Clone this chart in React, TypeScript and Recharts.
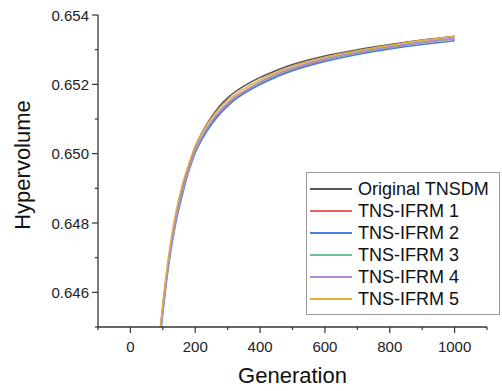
import { LineChart, Line, XAxis, YAxis, Legend } from "recharts";

const generations = [80, 90, 100, 110, 120, 140, 160, 180, 200, 225, 250, 275, 300, 325, 350, 400, 450, 500, 600, 700, 800, 900, 1000];

const original = [0.6437, 0.6447, 0.6456, 0.6464, 0.6471, 0.6482, 0.649, 0.64965, 0.6502, 0.65068, 0.65106, 0.65137, 0.65161, 0.6518, 0.65195, 0.6522, 0.6524, 0.65257, 0.65282, 0.653, 0.65315, 0.65328, 0.65339];
const ifrm1 = [0.6437, 0.6446, 0.6455, 0.6463, 0.647, 0.6481, 0.6489, 0.6495, 0.65005, 0.6505, 0.65088, 0.65118, 0.65141, 0.6516, 0.65175, 0.65202, 0.65224, 0.65242, 0.6527, 0.6529, 0.65306, 0.6532, 0.65331];
const ifrm2 = [0.6436, 0.6445, 0.6454, 0.6462, 0.6469, 0.648, 0.6488, 0.6495, 0.65003, 0.65048, 0.65084, 0.65113, 0.65137, 0.65157, 0.65173, 0.65199, 0.65221, 0.65239, 0.65266, 0.65286, 0.65302, 0.65315, 0.65326];
const ifrm3 = [0.6437, 0.6446, 0.6455, 0.6463, 0.647, 0.6481, 0.6489, 0.64955, 0.6501, 0.65056, 0.65093, 0.65122, 0.65145, 0.65164, 0.65179, 0.65205, 0.65227, 0.65245, 0.65272, 0.65292, 0.65308, 0.65321, 0.65332];
const ifrm4 = [0.6437, 0.6446, 0.6455, 0.6463, 0.647, 0.6481, 0.6489, 0.64955, 0.6501, 0.65055, 0.65092, 0.65122, 0.65146, 0.65165, 0.6518, 0.65207, 0.65229, 0.65247, 0.65274, 0.65294, 0.6531, 0.65323, 0.65334];
const ifrm5 = [0.6439, 0.6448, 0.6457, 0.6465, 0.6472, 0.6483, 0.6491, 0.6497, 0.65022, 0.65066, 0.65102, 0.65131, 0.65154, 0.65172, 0.65187, 0.65213, 0.65234, 0.65252, 0.65278, 0.65297, 0.65313, 0.65327, 0.65338];

const xTicks = [-100, 0, 100, 200, 300, 400, 500, 600, 700, 800, 900, 1000, 1100];
const yTicks = [0.645, 0.646, 0.647, 0.648, 0.649, 0.65, 0.651, 0.652, 0.653, 0.654];

const series = [
  { key: "original", name: "Original TNSDM", color: "#555555" },
  { key: "ifrm1", name: "TNS-IFRM 1", color: "#ee5f5f" },
  { key: "ifrm2", name: "TNS-IFRM 2", color: "#4a7fdc" },
  { key: "ifrm3", name: "TNS-IFRM 3", color: "#6cc39a" },
  { key: "ifrm4", name: "TNS-IFRM 4", color: "#b08ad8" },
  { key: "ifrm5", name: "TNS-IFRM 5", color: "#e3ad3c" },
];

const data = generations.map((gen, i) => ({
  gen,
  original: original[i],
  ifrm1: ifrm1[i],
  ifrm2: ifrm2[i],
  ifrm3: ifrm3[i],
  ifrm4: ifrm4[i],
  ifrm5: ifrm5[i],
}));

const FONT = "'Liberation Sans', Arial, sans-serif";
const AXIS = "#333333";

const XTick = ({ x, y, payload }: any) => {
  const major = payload.value % 200 === 0;
  return (
    <g>
      <line x1={x} x2={x} y1={y} y2={y + (major ? 6 : 3)} stroke={AXIS} strokeWidth={1.2} />
      {major && (
        <text x={x} y={y + 25} textAnchor="middle" fontSize={15} fontFamily={FONT} fill="#222">
          {payload.value}
        </text>
      )}
    </g>
  );
};

const YTick = ({ x, y, payload }: any) => {
  const major = Math.round(payload.value * 1000) % 2 === 0;
  return (
    <g>
      <line x1={x} x2={x - (major ? 6 : 3)} y1={y} y2={y} stroke={AXIS} strokeWidth={1.2} />
      {major && (
        <text x={x - 9} y={y + 5.5} textAnchor="end" fontSize={15} fontFamily={FONT} fill="#222">
          {payload.value.toFixed(3)}
        </text>
      )}
    </g>
  );
};

const YLabel = ({ viewBox }: any) => {
  const cx = viewBox.x + 22;
  const cy = viewBox.y + viewBox.height / 2 - 6;
  return (
    <text
      x={cx}
      y={cy}
      transform={`rotate(-90, ${cx}, ${cy})`}
      textAnchor="middle"
      dominantBaseline="central"
      fontSize={22}
      fontFamily={FONT}
      fill="#111"
    >
      Hypervolume
    </text>
  );
};

const XLabel = ({ viewBox }: any) => (
  <text
    x={viewBox.x + viewBox.width / 2}
    y={viewBox.y + 56}
    textAnchor="middle"
    fontSize={22}
    fontFamily={FONT}
    fill="#111"
  >
    Generation
  </text>
);

const LegendBox = () => (
  <div
    style={{
      border: "1px solid #9a9a9a",
      background: "#fff",
      padding: "5px 0 4px 3px",
      fontFamily: FONT,
      fontSize: 18,
      lineHeight: "22px",
      color: "#111",
      boxSizing: "border-box",
      width: 194,
    }}
  >
    {series.map((s) => (
      <div key={s.key} style={{ display: "flex", alignItems: "center", whiteSpace: "nowrap" }}>
        <svg width={48} height={22}>
          <line x1={0} x2={42} y1={11} y2={11} stroke={s.color} strokeWidth={2} />
        </svg>
        <span>{s.name}</span>
      </div>
    ))}
  </div>
);

export default function App() {
  return (
    <div style={{ position: "absolute", left: 0, top: 0, background: "#fff" }}>
      <LineChart width={502} height={391} data={data} margin={{ top: 15, right: 15, left: 0, bottom: 0 }}>
        <XAxis
          dataKey="gen"
          type="number"
          domain={[-100, 1100]}
          ticks={xTicks}
          allowDataOverflow
          height={64}
          tickSize={0}
          tickMargin={0}
          tickLine={false}
          tick={<XTick />}
          axisLine={{ stroke: AXIS, strokeWidth: 1.3 }}
          interval={0}
          label={<XLabel />}
        />
        <YAxis
          type="number"
          domain={[0.645, 0.654]}
          ticks={yTicks}
          allowDataOverflow
          width={98}
          tickSize={0}
          tickMargin={0}
          tickLine={false}
          tick={<YTick />}
          axisLine={{ stroke: AXIS, strokeWidth: 1.3 }}
          interval={0}
          label={<YLabel />}
        />
        <Legend
          layout="vertical"
          align="center"
          verticalAlign="middle"
          content={<LegendBox />}
          wrapperStyle={{ left: 306, top: 172, width: 194 }}
        />
        {series.map((s) => (
          <Line
            key={s.key}
            type="monotone"
            dataKey={s.key}
            name={s.name}
            stroke={s.color}
            strokeWidth={1.5}
            dot={false}
            isAnimationActive={false}
          />
        ))}
      </LineChart>
    </div>
  );
}
